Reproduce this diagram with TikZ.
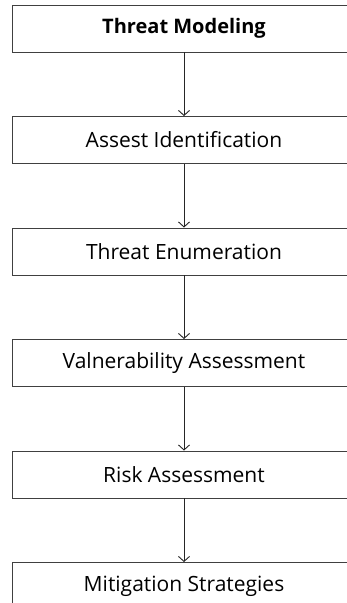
\documentclass[tikz,border=0pt]{standalone}
\usepackage{fontspec}
\setmainfont{Open Sans}
\usetikzlibrary{positioning,arrows.meta}

\begin{document}
\begin{tikzpicture}[x=1pt,y=1pt]
            \tikzset{
                stepbox/.style={draw=black!75,line width=0.9pt,minimum width=344pt,minimum height=47pt,inner sep=0pt,font=\fontsize{21}{24}\selectfont},
                flow/.style={-{Straight Barb[length=5pt,width=11pt]},draw=black!85,line width=0.9pt},}
            \useasboundingbox (0,0) rectangle (347,-603);
            \node [stepbox] (modeling) at (184,-28.5) {\fontsize{20}{24}\selectfont\bfseries Threat Modeling};
            \node [stepbox,below=63.6pt of modeling] (assets) {Assest Identification};
            \node [stepbox,below=63.6pt of assets] (threats) {Threat Enumeration};
            \node [stepbox,below=63.6pt of threats] (vulns) {Valnerability Assessment};
            \node [stepbox,below=63.6pt of vulns] (risk) {Risk Assessment};
            \node [stepbox,below=63.6pt of risk] (mitigation) {Mitigation Strategies};
            \draw [flow] (modeling) -- (assets);
            \draw [flow] (assets) -- (threats);
            \draw [flow] (threats) -- (vulns);
            \draw [flow] (vulns) -- (risk);
            \draw [flow] (risk) -- (mitigation);
        \end{tikzpicture}
\end{document}
